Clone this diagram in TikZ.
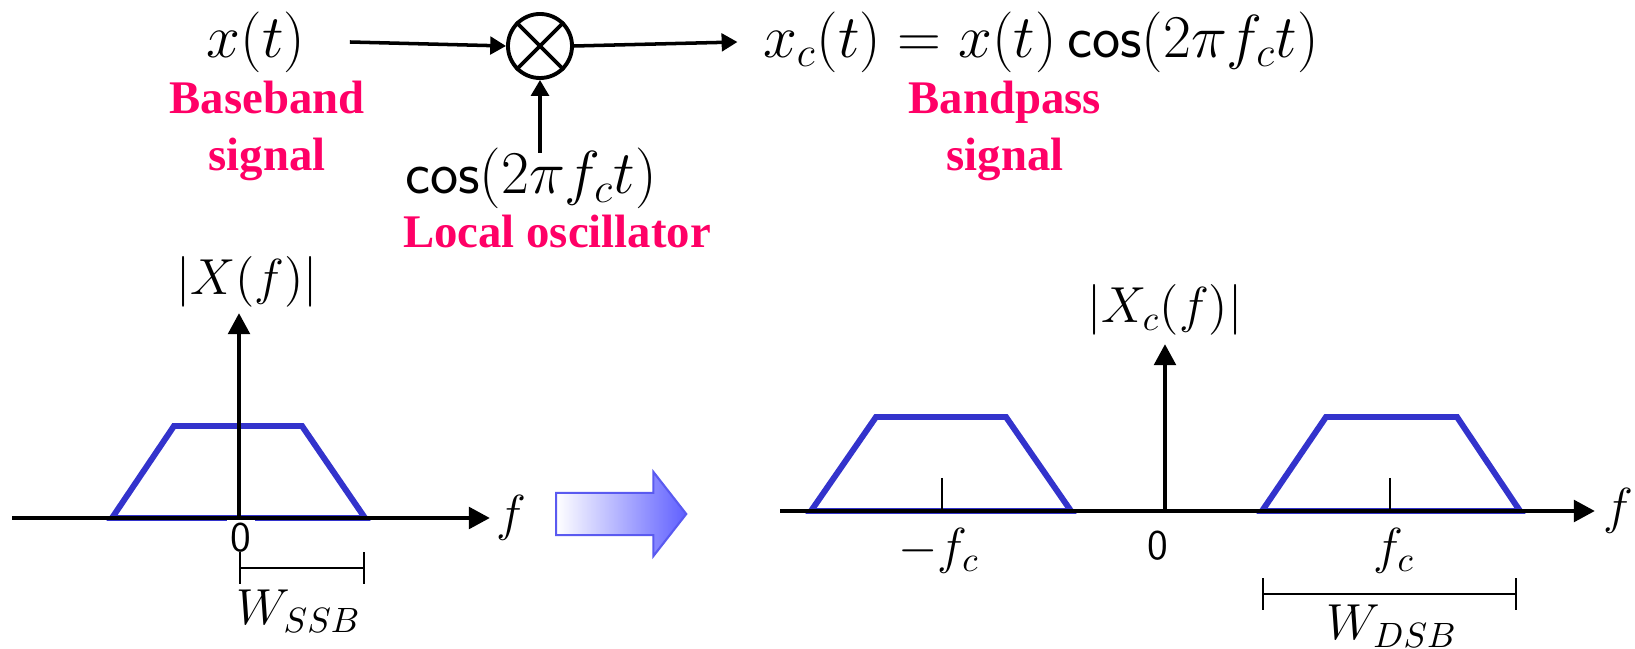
\documentclass[tikz,border=0pt]{standalone}
\usepackage{fontspec}
\usepackage{amsmath}
\usetikzlibrary{arrows.meta,positioning,shapes.arrows}
\newfontfamily\tagfont{Liberation Serif}
\definecolor{tagred}{RGB}{255,0,102}
\definecolor{specblue}{RGB}{51,51,204}
\definecolor{arrowblue}{RGB}{96,96,255}
\definecolor{arrowedge}{RGB}{90,90,240}

\begin{document}
\begin{tikzpicture}[
    x=0.01cm, y=-0.01cm,
    >={Triangle[length=4.5pt,width=5pt]},
    sig/.style={font=\fontsize{17}{20}\selectfont, inner sep=0pt},
    tag/.style={font=\tagfont\bfseries\fontsize{13.3}{16}\selectfont, text=tagred, align=center, inner sep=0pt},
    lbl/.style={font=\fontsize{14}{17}\selectfont, inner sep=0pt},
    zero/.style={font=\sffamily\fontsize{12}{14}\selectfont, inner sep=1pt, fill=white},
    flow/.style={->, line width=1pt},
    axis/.style={-{Triangle[length=6pt,width=6pt]}, line width=1.4pt},
    spec/.style={draw=specblue, line width=1.7pt},
    bracket/.style={{Bar[width=9pt]}-{Bar[width=9pt]}, line width=0.7pt}
]
\useasboundingbox (0,0) rectangle (1635,649);

\node[sig] (xt) at (256,42) {$x(t)$};
\node[draw, circle, line width=1.1pt, minimum size=0.64cm, inner sep=0pt] (mix) at (540,46) {};
\draw[line width=1.1pt] (mix.north west) -- (mix.south east) (mix.north east) -- (mix.south west);
\node[sig] (xc) at (1041,42) {$x_c(t) = x(t)\,\mathsf{cos}(2\pi f_c t)$};
\node[sig] (lo) at (531,178) {$\mathsf{cos}(2\pi f_c t)$};
\node[tag] (bbtag) at (267,131) {Baseband\\signal};
\node[tag] (bptag) at (1005,131) {Bandpass\\signal};
\node[tag] (lotag) at (557,232) {Local oscillator};
\draw[flow] ([xshift=0.44cm]xt.east) -- (mix.west);
\draw[flow] (mix.east) -- ([xshift=-0.25cm]xc.west);
\draw[flow] ([yshift=-0.06cm]mix.south |- lo.north) -- (mix.south);

\node[single arrow, draw=arrowedge, line width=0.6pt, left color=white, right color=arrowblue,
      inner xsep=0pt, inner ysep=0.2cm, minimum height=1.3cm, single arrow head extend=0.21cm,
      single arrow tip angle=104] (shift) at (613,514) {};

\draw[spec] (112,518) -- (174,426) -- (302,426) -- (365,518) -- cycle;
\node[zero] (z1) at (241,538) {0};
\coordinate (o1) at (239,518);
\coordinate (l1) at (12,518);
\coordinate (r1) at (490,518);
\coordinate (t1) at (239,313);
\draw[axis] (l1) -- (r1);
\draw[axis] (o1) -- (t1);
\node[lbl, right=0.06cm of r1] (f1) {$f$};
\node[lbl, above=0.05cm of t1, xshift=0.08cm] (mag1) {$|X(f)|$};
\draw[bracket] (239,568) -- (365,568);
\node[lbl] (wssb) at (299,611) {$W_{SSB}$};

\draw[spec] (811,511) -- (876,417) -- (1006,417) -- (1071,511) -- cycle;
\draw[spec] (1262,511) -- (1326,417) -- (1457,417) -- (1520,511) -- cycle;
\draw[line width=0.7pt] (942,478) -- (942,511) (1390,478) -- (1390,511);
\coordinate (o2) at (1165,511);
\coordinate (l2) at (780,511);
\coordinate (r2) at (1595,511);
\coordinate (t2) at (1165,344);
\draw[axis] (l2) -- (r2);
\draw[axis] (o2) -- (t2);
\node[lbl, right=0.08cm of r2] (f2) {$f$};
\node[lbl, above=0.08cm of t2] (mag2) {$|X_c(f)|$};
\node[lbl] (mfc) at (939,551) {$-f_c$};
\node[zero] (z2) at (1158,546) {0};
\node[lbl] (pfc) at (1394,551) {$f_c$};
\draw[bracket] (1262,594) -- (1517,594);
\node[lbl] (wdsb) at (1392,626) {$W_{DSB}$};
\end{tikzpicture}
\end{document}
